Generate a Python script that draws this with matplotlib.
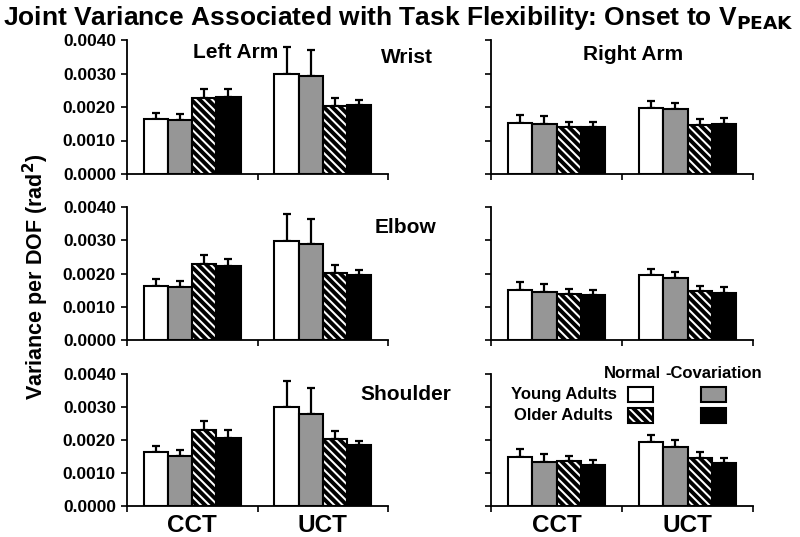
import matplotlib
matplotlib.use("Agg")
import matplotlib.pyplot as plt
import numpy as np
from matplotlib.patches import Rectangle

plt.rcParams['font.family'] = ['Liberation Sans', 'DejaVu Sans']
plt.rcParams['font.weight'] = 'bold'
plt.rcParams['hatch.linewidth'] = 2.8

# ---- data ----
categories = ["CCT", "UCT"]
series = ["Young Normal", "Young -Covariation", "Older Normal", "Older -Covariation"]
joints = ["Wrist", "Elbow", "Shoulder"]

# values [series][category]
left_wrist = [[0.00163, 0.00300], [0.00160, 0.00292], [0.00228, 0.00203], [0.00231, 0.00206]]
left_wrist_err = [[0.00020, 0.00078], [0.00018, 0.00078], [0.00027, 0.00025], [0.00024, 0.00016]]
right_wrist = [[0.00151, 0.00198], [0.00148, 0.00193], [0.00140, 0.00147], [0.00140, 0.00148]]
right_wrist_err = [[0.00024, 0.00020], [0.00024, 0.00019], [0.00016, 0.00018], [0.00016, 0.00019]]

left_elbow = [[0.00162, 0.00297], [0.00158, 0.00288], [0.00228, 0.00202], [0.00222, 0.00195]]
left_elbow_err = [[0.00020, 0.00081], [0.00020, 0.00075], [0.00027, 0.00025], [0.00023, 0.00015]]
right_elbow = [[0.00150, 0.00195], [0.00144, 0.00187], [0.00138, 0.00146], [0.00134, 0.00142]]
right_elbow_err = [[0.00024, 0.00020], [0.00024, 0.00018], [0.00015, 0.00017], [0.00015, 0.00017]]

left_shoulder = [[0.00164, 0.00299], [0.00152, 0.00279], [0.00230, 0.00203], [0.00206, 0.00184]]
left_shoulder_err = [[0.00019, 0.00081], [0.00018, 0.00078], [0.00028, 0.00025], [0.00024, 0.00014]]
right_shoulder = [[0.00148, 0.00195], [0.00134, 0.00178], [0.00137, 0.00145], [0.00125, 0.00130]]
right_shoulder_err = [[0.00026, 0.00019], [0.00024, 0.00021], [0.00016, 0.00018], [0.00013, 0.00016]]

yticks = [0.0, 0.001, 0.002, 0.003, 0.004]
ytick_labels = ["0.0000", "0.0010", "0.0020", "0.0030", "0.0040"]

styles = [dict(facecolor='white', hatch=None),
          dict(facecolor='#969696', hatch=None),
          dict(facecolor='white', hatch='\\\\\\\\'),
          dict(facecolor='black', hatch=None)]

W, H = 800, 537
fig = plt.figure(figsize=(W / 100, H / 100), dpi=100)

def px_axes(x0, x1, ytop, ybot):
    return fig.add_axes([x0 / W, 1 - ybot / H, (x1 - x0) / W, (ybot - ytop) / H])

rows = [(40, 174), (207, 340), (374, 506)]
cols = [(127, 388), (491, 753)]
data = [[(left_wrist, left_wrist_err), (right_wrist, right_wrist_err)],
        [(left_elbow, left_elbow_err), (right_elbow, right_elbow_err)],
        [(left_shoulder, left_shoulder_err), (right_shoulder, right_shoulder_err)]]

bw = 0.185
x = np.arange(len(categories)) + 0.5
for r, (yt, yb) in enumerate(rows):
    for c, (x0, x1) in enumerate(cols):
        ax = px_axes(x0, x1, yt, yb)
        vals, errs = data[r][c]
        for i, st in enumerate(styles):
            xp = x + (i - 1.5) * bw
            v = np.array(vals[i])
            e = np.array(errs[i])
            ax.errorbar(xp, v, yerr=[np.zeros_like(e), e], fmt='none', ecolor='black',
                        elinewidth=1.6, capsize=3, capthick=1.6, zorder=1)
            ax.bar(xp, v, width=bw, facecolor=st['facecolor'], edgecolor='black',
                   linewidth=1.5, hatch=st['hatch'], zorder=2)
        ax.set_xlim(0, 2)
        ax.set_ylim(0, 0.004)
        ax.set_xticks([0, 1, 2])
        ax.set_xticklabels([])
        ax.set_yticks(yticks)
        if c == 0:
            ax.set_yticklabels(ytick_labels, fontsize=12.5, fontweight='bold')
        else:
            ax.set_yticklabels([])
        ax.tick_params(axis='both', direction='out', length=4, width=1.2, pad=4)
        for s in ['top', 'right']:
            ax.spines[s].set_visible(False)
        for s in ['left', 'bottom']:
            ax.spines[s].set_linewidth(1.3)
        ax.patch.set_alpha(0)
        if r == 2:
            for xi, cat in zip(x, categories):
                ax.text(xi, -0.0006, cat, ha='center', va='center', fontsize=17.5,
                        fontweight='bold', clip_on=False)

def ftext(px, py, s, **kw):
    fig.text(px / W, 1 - py / H, s, fontweight='bold', **kw)

ftext(398, 18, r"Joint Variance Associated with Task Flexibility: Onset to V$_{\mathbf{PEAK}}$",
      ha='center', va='center', fontsize=19)
ftext(236, 52, "Left Arm", ha='center', va='center', fontsize=15)
ftext(633, 55, "Right Arm", ha='center', va='center', fontsize=15)
ftext(407, 57, joints[0], ha='center', va='center', fontsize=15)
ftext(405, 227, joints[1], ha='center', va='center', fontsize=15)
ftext(406, 395, joints[2], ha='center', va='center', fontsize=15)
ftext(36, 277, r"Variance per DOF (rad$^\mathbf{2}$)", ha='center', va='center',
      fontsize=15.5, rotation=90)

# legend
ftext(632, 374, "Normal", ha='center', va='center', fontsize=12)
ftext(714, 374, "-Covariation", ha='center', va='center', fontsize=12)
ftext(617, 394, "Young Adults", ha='right', va='center', fontsize=12)
ftext(613, 416, "Older Adults", ha='right', va='center', fontsize=12)
boxes = [(628, 387, styles[0]), (701, 387, styles[1]), (628, 408, styles[2]), (701, 408, styles[3])]
for bx, by, st in boxes:
    rect = Rectangle((bx / W, 1 - (by + 15) / H), 25 / W, 15 / H, transform=fig.transFigure,
                     facecolor=st['facecolor'], edgecolor='black', linewidth=1.5,
                     hatch=st['hatch'])
    fig.patches.append(rect)

fig.savefig("out.png", dpi=100)
